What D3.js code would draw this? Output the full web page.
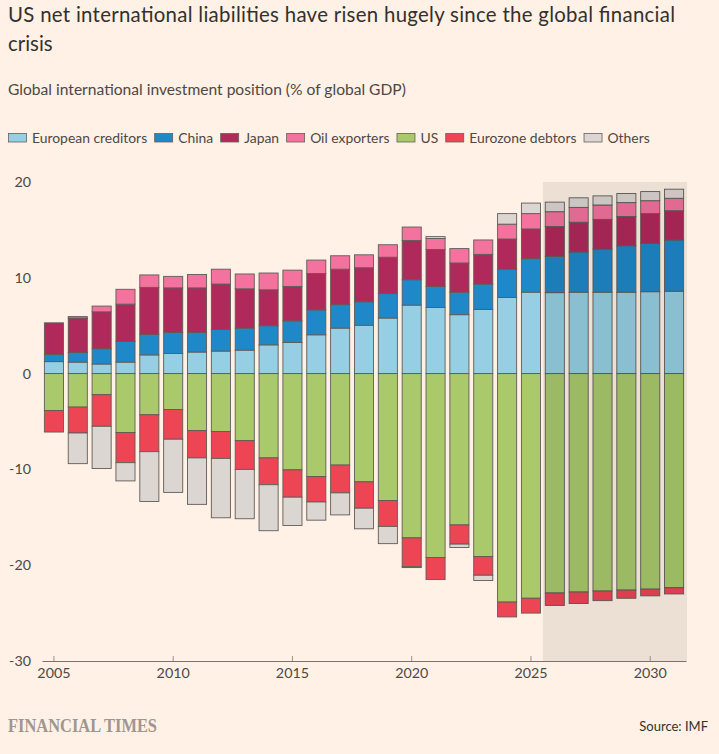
<!doctype html>
<html>
<head>
<meta charset="utf-8">
<title>US net international liabilities</title>
<script src="https://d3js.org/d3.v7.min.js"></script>
<style>
  body { margin: 0; background: #fff1e5; }
  svg { display: block; font-family: Lato, "Open Sans", sans-serif; }
</style>
</head>
<body>
<svg id="chart" width="719" height="754"></svg>
<script>
// categories
var years = [2005, 2006, 2007, 2008, 2009, 2010, 2011, 2012, 2013, 2014, 2015, 2016, 2017, 2018,
             2019, 2020, 2021, 2022, 2023, 2024, 2025, 2026, 2027, 2028, 2029, 2030, 2031];

// positive positions (% of global GDP)
var europe = [1.25, 1.2, 1.0, 1.2, 1.95, 2.1, 2.25, 2.35, 2.45, 3.0, 3.25, 4.05, 4.75, 5.05,
              5.8, 7.15, 6.9, 6.15, 6.7, 7.95, 8.5, 8.45, 8.5, 8.5, 8.5, 8.55, 8.6];
var china = [0.75, 1.0, 1.6, 2.15, 2.15, 2.2, 2.05, 2.25, 2.3, 2.0, 2.25, 2.6, 2.45, 2.45,
             2.55, 2.65, 2.2, 2.35, 2.65, 2.95, 3.5, 3.8, 4.2, 4.5, 4.85, 5.05, 5.35];
var japan = [3.3, 3.6, 3.85, 3.9, 4.9, 4.65, 4.65, 4.75, 4.1, 3.75, 3.6, 3.8, 3.7, 3.55,
             3.8, 4.1, 3.85, 3.05, 3.1, 3.15, 3.1, 3.1, 3.1, 3.1, 3.05, 3.1, 3.05];
var oil = [0, 0.15, 0.6, 1.55, 1.3, 1.2, 1.4, 1.55, 1.55, 1.75, 1.7, 1.4, 1.4, 1.35,
           1.3, 1.4, 1.15, 1.5, 1.5, 1.55, 1.6, 1.55, 1.55, 1.5, 1.45, 1.35, 1.3];
var othersPos = [0, 0, 0, 0, 0, 0, 0, 0, 0, 0, 0, 0, 0, 0,
                 0, 0, 0.2, 0, 0, 1.1, 1.1, 1.0, 1.0, 0.95, 0.95, 0.95, 0.95];

// negative positions
var us = [-3.85, -3.5, -2.2, -6.15, -4.3, -3.75, -5.95, -6.05, -7.0, -8.8, -10.05, -10.75, -9.55, -11.3,
          -13.25, -17.15, -19.2, -15.8, -19.1, -23.85, -23.45, -22.9, -22.8, -22.7, -22.6, -22.5, -22.35];
var ezDebtors = [-2.25, -2.7, -3.3, -3.15, -3.85, -3.1, -2.85, -2.8, -3.0, -2.8, -2.85, -2.65, -2.9, -2.75,
                 -2.7, -3.0, -2.3, -2.0, -1.95, -1.55, -1.55, -1.3, -1.2, -1.0, -0.85, -0.7, -0.65];
var othersNeg = [0, -3.2, -4.4, -1.9, -5.2, -5.55, -4.85, -6.2, -5.15, -4.8, -2.95, -1.9, -2.3, -2.15,
                 -1.8, -0.1, 0, -0.35, -0.55, 0, 0, 0, 0, 0, 0, 0, 0];

var yTicks = [-30, -20, -10, 0, 10, 20];
var xTicks = [2005, 2010, 2015, 2020, 2025, 2030];
var forecastFrom = 2026;

var legendNames = ['European creditors', 'China', 'Japan', 'Oil exporters', 'US', 'Eurozone debtors', 'Others'];
var legendColors = ['#96cfe3', '#1f88c8', '#b0295b', '#f3739e', '#a9c96b', '#ee4555', '#dcd6d3'];

var keys = ['europe', 'china', 'japan', 'oil', 'othersPos', 'us', 'ezDebtors', 'othersNeg'];
var keyColor = {
    europe: '#96cfe3', china: '#1f88c8', japan: '#b0295b', oil: '#f3739e', othersPos: '#dcd6d3',
    us: '#a9c96b', ezDebtors: '#ee4555', othersNeg: '#dcd6d3'
};

var rows = years.map((y, i) => ({
    year: y, europe: europe[i], china: china[i], japan: japan[i], oil: oil[i], othersPos: othersPos[i],
    us: us[i], ezDebtors: ezDebtors[i], othersNeg: othersNeg[i]
}));

var svg = d3.select('#chart');
var TEXT = '#33302e';
var MUTED = '#66605c';

// title + subtitle
svg.append('text').attr('x', 8).attr('y', 22).attr('font-size', 20.4).attr('fill', TEXT)
    .attr('textLength', 667).attr('lengthAdjust', 'spacing')
    .text('US net international liabilities have risen hugely since the global financial');
svg.append('text').attr('x', 8).attr('y', 51).attr('font-size', 20.4).attr('fill', TEXT)
    .text('crisis');
svg.append('text').attr('x', 8).attr('y', 95).attr('font-size', 15.6).attr('fill', '#4d4845')
    .text('Global international investment position (% of global GDP)');

// legend
var lx = 8;
legendNames.forEach(function (name, i) {
    var g = svg.append('g');
    g.append('rect').attr('x', lx + 0.5).attr('y', 133.5).attr('width', 18).attr('height', 8.5)
        .attr('fill', legendColors[i]).attr('stroke', MUTED).attr('stroke-width', 0.8);
    var t = g.append('text').attr('x', lx + 24).attr('y', 143).attr('font-size', 13.9).attr('fill', '#4d4845')
        .text(name);
    lx += 24 + t.node().getComputedTextLength() + 7;
});

// scales
var x = d3.scaleBand().domain(years).range([42, 686]).paddingInner(0.2).paddingOuter(0.1);
var y = d3.scaleLinear().domain([-30, 20]).range([661, 182]);

var series = d3.stack().keys(keys).offset(d3.stackOffsetDiverging)(rows);

svg.append('g')
    .selectAll('g')
    .data(series)
    .join('g')
    .attr('fill', d => keyColor[d.key])
    .selectAll('rect')
    .data(d => d.filter(s => s[1] - s[0] !== 0))
    .join('rect')
    .attr('x', d => x(d.data.year))
    .attr('y', d => y(d[1]))
    .attr('width', x.bandwidth())
    .attr('height', d => y(d[0]) - y(d[1]))
    .attr('stroke', '#615b57')
    .attr('stroke-width', 0.9);

// forecast shading, drawn over the bars so they darken slightly
var shadeX = x(forecastFrom) - x.step() * x.paddingInner() / 2;
svg.append('rect')
    .attr('x', shadeX)
    .attr('y', y(20))
    .attr('width', x.range()[1] - shadeX + 1)
    .attr('height', y(-30) - y(20))
    .attr('fill', '#000')
    .attr('fill-opacity', 0.075);

// y axis labels
var yAxis = svg.append('g').attr('transform', 'translate(31,0)')
    .call(d3.axisLeft(y).tickValues(yTicks).tickSize(0).tickPadding(0).tickFormat(d3.format('d')));
yAxis.select('.domain').remove();
yAxis.selectAll('text').attr('font-size', 14.3).attr('fill', '#4d4845')
    .attr('font-family', 'Lato, "Open Sans", sans-serif').text(d => d < 0 ? '-' + Math.abs(d) : d);

// x axis
var xAxis = svg.append('g').attr('transform', 'translate(0,' + y(-30) + ')')
    .call(d3.axisBottom(x).tickValues(xTicks).tickSizeInner(-5).tickSizeOuter(0).tickPadding(7));
xAxis.select('.domain').attr('stroke', '#7a726c');
xAxis.selectAll('.tick line').attr('stroke', '#9a918a');
xAxis.selectAll('text').attr('font-size', 14.3).attr('fill', '#4d4845')
    .attr('font-family', 'Lato, "Open Sans", sans-serif');

// footer
svg.append('text').attr('x', 8).attr('y', 732).attr('font-size', 18)
    .attr('font-family', '"Liberation Serif", "DejaVu Serif", serif').attr('font-weight', 'bold')
    .attr('fill', '#a0968f').attr('textLength', 149).attr('lengthAdjust', 'spacingAndGlyphs')
    .text('FINANCIAL TIMES');
svg.append('text').attr('x', 708).attr('y', 731).attr('font-size', 13).attr('text-anchor', 'end')
    .attr('fill', TEXT).text('Source: IMF');
</script>
</body>
</html>
